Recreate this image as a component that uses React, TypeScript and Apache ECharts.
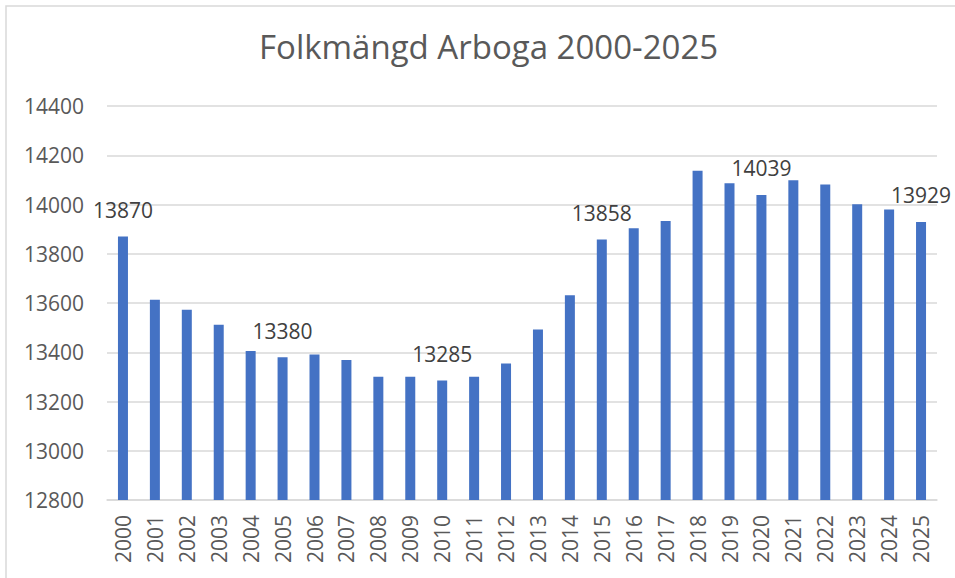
import React, { useEffect, useRef } from "react";
import * as echarts from "echarts";

const years = [
  "2000", "2001", "2002", "2003", "2004", "2005", "2006", "2007", "2008", "2009",
  "2010", "2011", "2012", "2013", "2014", "2015", "2016", "2017", "2018", "2019",
  "2020", "2021", "2022", "2023", "2024", "2025",
];
const population = [
  13870, 13613, 13573, 13512, 13405, 13380, 13391, 13369, 13301, 13301,
  13285, 13301, 13354, 13492, 13631, 13858, 13904, 13933, 14137, 14086,
  14039, 14098, 14081, 14001, 13980, 13929,
];
const labeledYears = ["2000", "2005", "2010", "2015", "2020", "2025"];
const titleText = "Folkmängd Arboga 2000-2025";

const FONT = "'Open Sans', 'Noto Sans', sans-serif";

export default function App() {
  const ref = useRef<HTMLDivElement>(null);
  useEffect(() => {
    document.body.style.margin = "0";
    if (!ref.current) return;
    const chart = echarts.init(ref.current, null, { renderer: "svg" });
    chart.setOption({
      animation: false,
      backgroundColor: "#ffffff",
      title: {
        text: titleText,
        left: 254,
        top: 25,
        textStyle: {
          fontFamily: FONT,
          fontSize: 33,
          fontWeight: "normal",
          color: "#595959",
        },
      },
      graphic: [
        {
          type: "rect",
          shape: { x: 6, y: 6, width: 1200, height: 1200 },
          style: { fill: "none", stroke: "#d9d9d9", lineWidth: 1.5 },
          silent: true,
        },
      ],
      grid: { left: 107, right: 18, top: 106, bottom: 78 },
      xAxis: {
        type: "category",
        data: years,
        axisLine: { lineStyle: { color: "#d9d9d9", width: 1.5 } },
        axisTick: { show: false },
        axisLabel: {
          rotate: 90,
          margin: 15,
          interval: 0,
          fontFamily: FONT,
          fontSize: 21,
          color: "#595959",
        },
      },
      yAxis: {
        type: "value",
        min: 12800,
        max: 14400,
        interval: 200,
        axisLine: { show: false },
        axisTick: { show: false },
        splitLine: { lineStyle: { color: "#d9d9d9", width: 1.5 } },
        axisLabel: {
          margin: 23,
          fontFamily: FONT,
          fontSize: 21,
          color: "#595959",
          formatter: (v: number) => String(v),
        },
      },
      series: [
        {
          type: "bar",
          barWidth: 10,
          itemStyle: { color: "#4472C4" },
          data: population.map((v, i) => ({
            value: v,
            label: {
              show: labeledYears.includes(years[i]),
              position: "top",
              distance: 16,
              fontFamily: FONT,
              fontSize: 21,
              color: "#404040",
            },
          })),
        },
      ],
    });
    return () => chart.dispose();
  }, []);
  return <div ref={ref} style={{ width: 955, height: 578 }} />;
}
